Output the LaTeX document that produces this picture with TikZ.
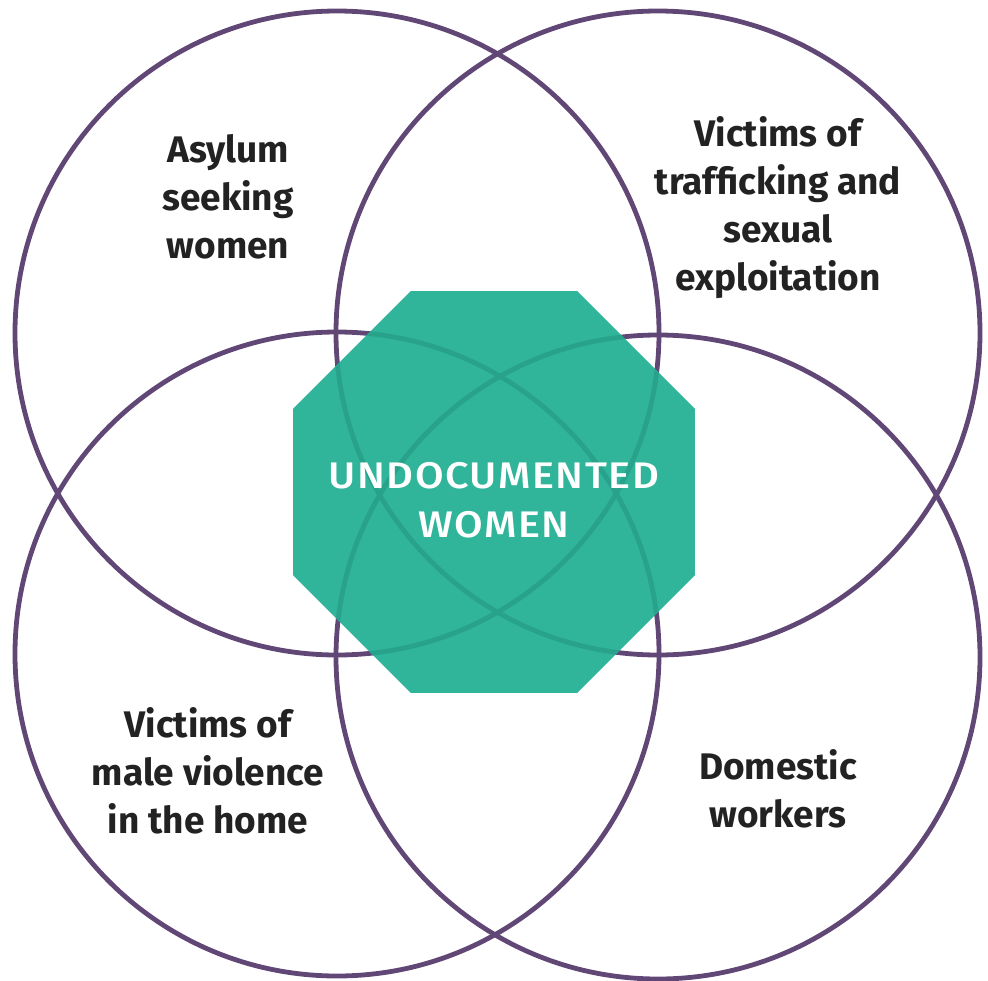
\documentclass[tikz,border=0pt]{standalone}
\usepackage{fontspec}
\setmainfont{Fira Sans}
\newfontfamily\centerfont{Fira Sans Medium}[LetterSpace=4,FakeStretch=1.12]
\usetikzlibrary{shapes.geometric}
\definecolor{ringpurple}{HTML}{614776}
\definecolor{octteal}{HTML}{30B59A}
\definecolor{innerring}{HTML}{28A28B}
\definecolor{labeltext}{HTML}{222222}
\begin{document}
\begin{tikzpicture}[x=1pt,y=-1pt,
  ring/.style={circle, draw=ringpurple, line width=4.8pt, minimum size=644pt, inner sep=0pt},
  grouplabel/.style={align=center, text=labeltext, font=\fontsize{37}{48}\selectfont\bfseries, inner sep=0pt},
  octa/.style={regular polygon, regular polygon sides=8, fill=octteal, minimum size=435pt, inner sep=0pt},
  innerline/.style={draw=innerring, line width=4.8pt},
  centerlabel/.style={align=center, text=white, font=\centerfont\fontsize{37}{49}\selectfont, inner sep=0pt}]
\useasboundingbox (0,0) rectangle (988,980);
\node[ring] (tl) at (337,333) {};
\node[ring] (tr) at (658,333) {};
\node[ring] (bl) at (337,654) {};
\node[ring] (br) at (658,657) {};
\node[octa] (oct) at (494,492) {};
\begin{scope}
  \clip (oct.corner 1) -- (oct.corner 2) -- (oct.corner 3) -- (oct.corner 4) -- (oct.corner 5) -- (oct.corner 6) -- (oct.corner 7) -- (oct.corner 8) -- cycle;
  \path[innerline] (tl.center) circle[radius=322];
  \path[innerline] (tr.center) circle[radius=322];
  \path[innerline] (bl.center) circle[radius=322];
  \path[innerline] (br.center) circle[radius=322];
\end{scope}
\node[centerlabel] (undoc) at (494,500) {UNDOCUMENTED\\WOMEN};
\node[grouplabel] (asylum) at (228,197) {Asylum\\seeking\\women};
\node[grouplabel] (traff) at (778,208) {Victims of\\trafficking and\\sexual\\exploitation};
\node[grouplabel] (violence) at (208,771) {Victims of\\male violence\\in the home};
\node[grouplabel] (domestic) at (778,789) {Domestic\\workers};
\end{tikzpicture}
\end{document}
